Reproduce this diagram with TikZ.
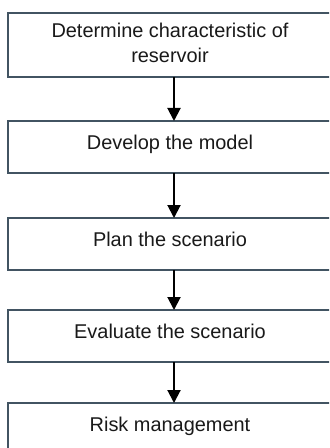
\documentclass[tikz,border=0pt]{standalone}
\usepackage{fontspec}
\setmainfont{Liberation Sans}
\usepackage{tikz}
\usetikzlibrary{positioning, arrows.meta}
\definecolor{boxline}{RGB}{66,84,98}

\begin{document}
\begin{tikzpicture}[x=1bp, y=-1bp, >={Triangle[length=13bp,width=13bp]},
                node distance=44bp, font=\fontsize{20}{25}\selectfont]

                % Define the style for the steps
                \tikzset{stepbox/.style={rectangle, draw=boxline, line width=1.8bp, minimum width=324bp,
                    minimum height=52bp, inner sep=0pt, outer sep=0pt, align=center, text=black!90,
                    text depth=10bp},
                    flow/.style={->, line width=2bp, black}}

                \useasboundingbox (0,0) rectangle (329,448);
                \clip (0,0) rectangle (329,448);

                % Nodes
                \node[stepbox, minimum height=64bp, text depth=4bp, anchor=north west] at (8,13) (char) {Determine characteristic of\\reservoir};
                \node[stepbox, below=44bp of char] (model) {Develop the model};
                \node[stepbox, below=45bp of model] (plan) {Plan the scenario};
                \node[stepbox, below=40bp of plan] (eval) {Evaluate the scenario};
                \node[stepbox, below=41bp of eval] (risk) {Risk management};

                % Paths
                \draw[flow] ([xshift=4bp]char.south) -- ([xshift=4bp]model.north);
                \draw[flow] ([xshift=4bp]model.south) -- ([xshift=4bp]plan.north);
                \draw[flow] ([xshift=4bp]plan.south) -- ([xshift=4bp]eval.north);
                \draw[flow] ([xshift=4bp]eval.south) -- ([xshift=4bp]risk.north);
\end{tikzpicture}
\end{document}
